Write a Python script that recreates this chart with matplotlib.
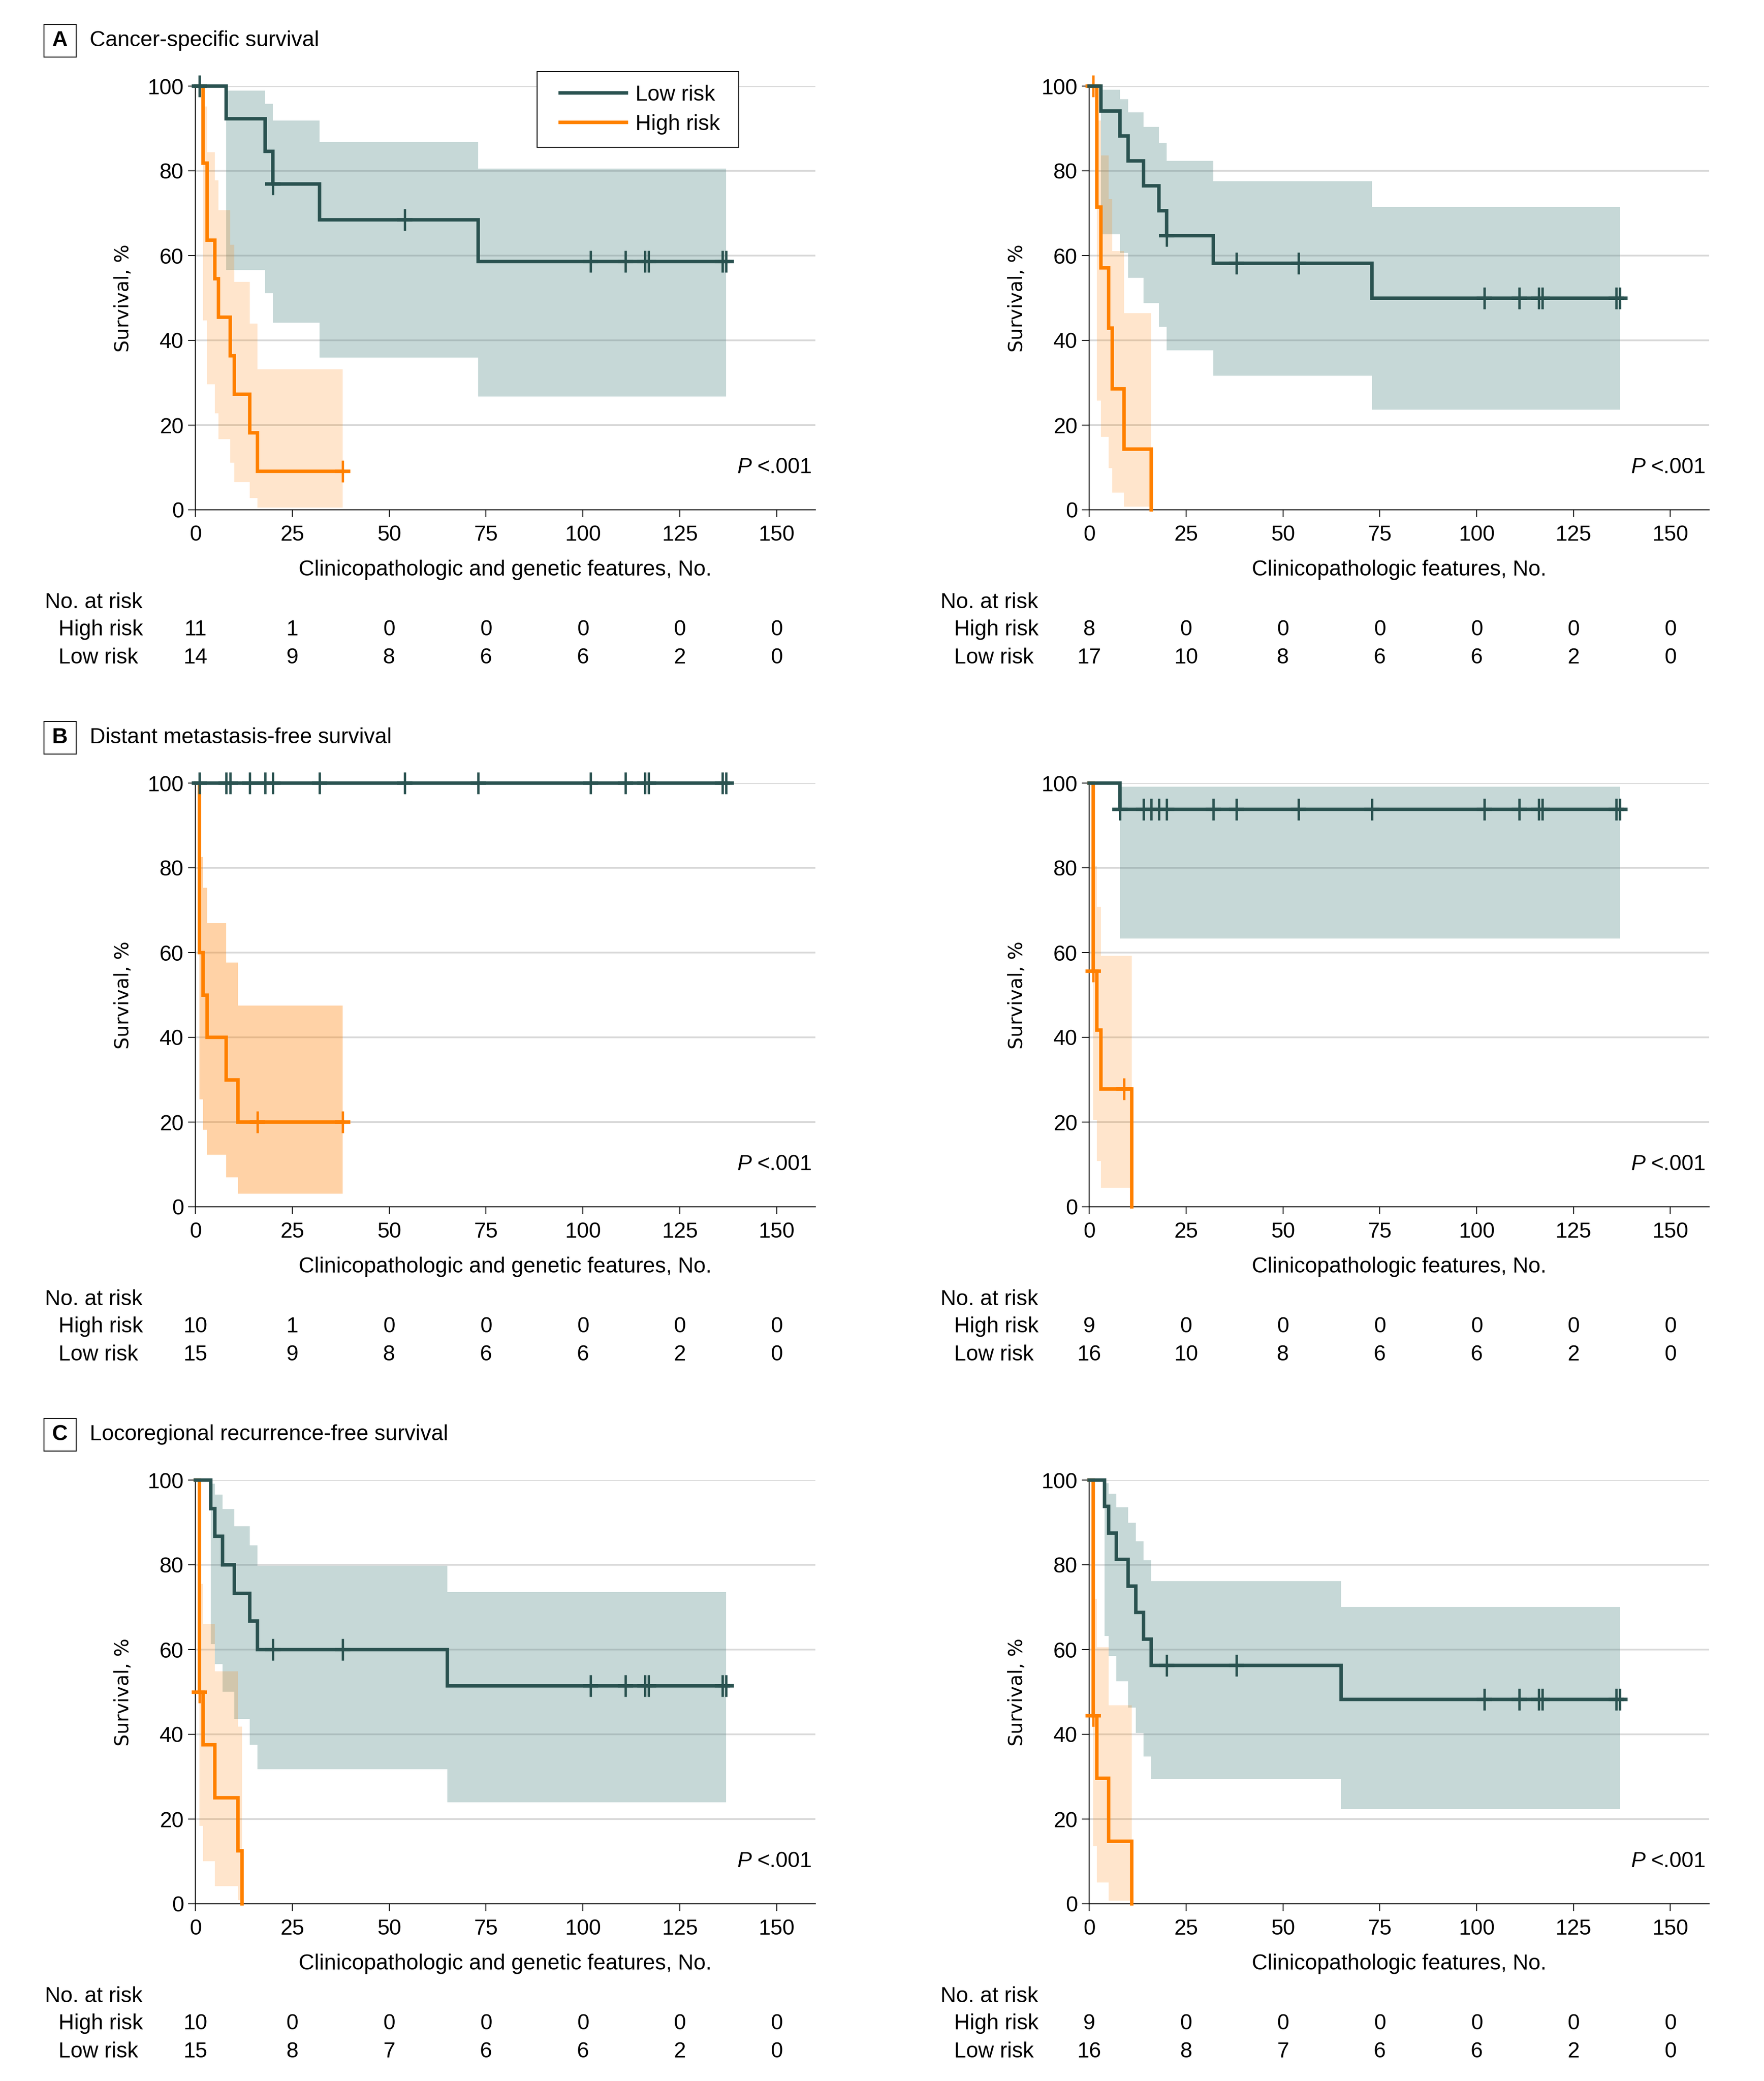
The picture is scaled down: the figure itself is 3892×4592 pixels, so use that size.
import numpy as np
import matplotlib
matplotlib.use('Agg')
import matplotlib.pyplot as plt
import matplotlib.font_manager as fm
import matplotlib.transforms as mtrans
from matplotlib.lines import Line2D
from matplotlib.legend_handler import HandlerLine2D
from matplotlib.patches import Rectangle

# pick a condensed face if there is one
names = set(f.name for f in fm.fontManager.ttflist)
narrow = 'Liberation Sans Narrow' in names
base_font = 'Liberation Sans Narrow' if narrow else 'Liberation Sans'
k = 1.0 if narrow else 0.82
plt.rcParams['font.family'] = base_font

low_col = '#2a5250'
low_fill = '#457f7d'
high_col = '#ff8000'
grid_col = '#d9d9d9'

titles = ['Cancer-specific survival', 'Distant metastasis-free survival',
          'Locoregional recurrence-free survival']
letters = ['A', 'B', 'C']
xlabels = ['Clinicopathologic and genetic features, No.',
           'Clinicopathologic features, No.']
xticks = [0, 25, 50, 75, 100, 125, 150]
yticks = [0, 20, 40, 60, 80, 100]

# ---- A, clinicopathologic + genetic
a1_low_t = [0, 8, 18, 20, 32, 73, 137]
a1_low_s = [100, 92.3, 84.6, 76.9, 68.4, 58.6, 58.6]
a1_low_ci_t = [8, 18, 20, 32, 73, 137]
a1_low_hi = [98.9, 95.8, 91.9, 86.8, 80.5, 80.5]
a1_low_lo = [56.6, 51.1, 44.2, 35.9, 26.7, 26.7]
a1_low_cens = [1, 20, 54, 102, 111, 116, 117, 136, 137]
a1_high_t = [0, 2, 3, 5, 6, 9, 10, 14, 16, 38]
a1_high_s = [100, 81.8, 63.6, 54.5, 45.5, 36.4, 27.3, 18.2, 9.1, 9.1]
a1_high_ci_t = [2, 3, 5, 6, 9, 10, 14, 16, 38]
a1_high_hi = [95.2, 84.4, 77.8, 70.7, 62.6, 53.8, 44.0, 33.2, 33.2]
a1_high_lo = [44.7, 29.6, 22.8, 16.7, 11.1, 6.5, 2.8, 0.5, 0.5]
a1_high_cens = [38]
a1_risk_high = [11, 1, 0, 0, 0, 0, 0]
a1_risk_low = [14, 9, 8, 6, 6, 2, 0]

# ---- A, clinicopathologic only
a2_low_t = [0, 3, 8, 10, 14, 18, 20, 32, 73, 137]
a2_low_s = [100, 94.1, 88.2, 82.4, 76.5, 70.6, 64.7, 58.2, 49.9, 49.9]
a2_low_ci_t = [3, 8, 10, 14, 18, 20, 32, 73, 137]
a2_low_hi = [99.1, 96.9, 93.8, 90.4, 86.6, 82.3, 77.5, 71.4, 71.4]
a2_low_lo = [65.0, 60.6, 54.8, 48.8, 43.2, 37.7, 31.7, 23.6, 23.6]
a2_low_cens = [20, 38, 54, 102, 111, 116, 117, 136, 137]
a2_high_t = [0, 2, 3, 5, 6, 9, 16]
a2_high_s = [100, 71.4, 57.1, 42.9, 28.6, 14.3, 0]
a2_high_ci_t = [2, 3, 5, 6, 9, 16]
a2_high_hi = [91.9, 83.6, 73.4, 61.1, 46.4, 46.4]
a2_high_lo = [25.8, 17.2, 9.8, 4.1, 0.7, 0.7]
a2_high_cens = [1]
a2_risk_high = [8, 0, 0, 0, 0, 0, 0]
a2_risk_low = [17, 10, 8, 6, 6, 2, 0]

# ---- B, clinicopathologic + genetic
b1_low_t = [0, 137]
b1_low_s = [100, 100]
b1_low_ci_t = []
b1_low_hi = []
b1_low_lo = []
b1_low_cens = [1, 8, 9, 14, 18, 20, 32, 54, 73, 102, 111, 116, 117, 136, 137]
b1_high_t = [0, 1, 2, 3, 8, 11, 38]
b1_high_s = [100, 60, 50, 40, 30, 20, 20]
b1_high_ci_t = [1, 2, 3, 8, 11, 38]
b1_high_hi = [82.6, 75.3, 67.0, 57.7, 47.5, 47.5]
b1_high_lo = [25.3, 18.2, 12.3, 7.0, 3.1, 3.1]
b1_high_cens = [16, 38]
b1_risk_high = [10, 1, 0, 0, 0, 0, 0]
b1_risk_low = [15, 9, 8, 6, 6, 2, 0]

# ---- B, clinicopathologic only
b2_low_t = [0, 8, 137]
b2_low_s = [100, 93.8, 93.8]
b2_low_ci_t = [8, 137]
b2_low_hi = [99.1, 99.1]
b2_low_lo = [63.3, 63.3]
b2_low_cens = [8, 14, 16, 18, 20, 32, 38, 54, 73, 102, 111, 116, 117, 136, 137]
b2_high_t = [0, 1, 2, 3, 11]
b2_high_s = [100, 55.6, 41.7, 27.8, 0]
b2_high_ci_t = [1, 2, 3, 11]
b2_high_hi = [80.4, 70.8, 59.2, 59.2]
b2_high_lo = [20.4, 10.8, 4.5, 4.5]
b2_high_cens = [1, 9]
b2_risk_high = [9, 0, 0, 0, 0, 0, 0]
b2_risk_low = [16, 10, 8, 6, 6, 2, 0]

# ---- C, clinicopathologic + genetic
c1_low_t = [0, 4, 5, 7, 10, 14, 16, 65, 137]
c1_low_s = [100, 93.3, 86.7, 80.0, 73.3, 66.7, 60.0, 51.4, 51.4]
c1_low_ci_t = [4, 5, 7, 10, 14, 16, 65, 137]
c1_low_hi = [99.1, 96.6, 93.2, 89.1, 84.6, 79.8, 73.6, 73.6]
c1_low_lo = [61.3, 56.6, 50.1, 43.6, 37.5, 31.8, 24.0, 24.0]
c1_low_cens = [20, 38, 102, 111, 116, 117, 136, 137]
c1_high_t = [0, 1, 2, 5, 11, 12]
c1_high_s = [100, 50, 37.5, 25, 12.5, 0]
c1_high_ci_t = [1, 2, 5, 11, 12]
c1_high_hi = [75.5, 66.0, 54.9, 41.8, 41.8]
c1_high_lo = [18.4, 10.0, 4.2, 0.9, 0.9]
c1_high_cens = [1]
c1_risk_high = [10, 0, 0, 0, 0, 0, 0]
c1_risk_low = [15, 8, 7, 6, 6, 2, 0]

# ---- C, clinicopathologic only
c2_low_t = [0, 4, 5, 7, 10, 12, 14, 16, 65, 137]
c2_low_s = [100, 93.8, 87.5, 81.3, 75.0, 68.8, 62.5, 56.3, 48.2, 48.2]
c2_low_ci_t = [4, 5, 7, 10, 12, 14, 16, 65, 137]
c2_low_hi = [99.3, 96.8, 93.6, 89.9, 85.6, 81.1, 76.2, 70.1, 70.1]
c2_low_lo = [63.2, 58.5, 52.5, 46.3, 40.3, 34.8, 29.4, 22.3, 22.3]
c2_low_cens = [20, 38, 102, 111, 116, 117, 136, 137]
c2_high_t = [0, 1, 2, 5, 11]
c2_high_s = [100, 44.4, 29.6, 14.8, 0]
c2_high_ci_t = [1, 2, 5, 11]
c2_high_hi = [72.0, 60.5, 46.8, 46.8]
c2_high_lo = [13.6, 5.0, 0.8, 0.8]
c2_high_cens = [1]
c2_risk_high = [9, 0, 0, 0, 0, 0, 0]
c2_risk_low = [16, 8, 7, 6, 6, 2, 0]

W, H = 3892, 4592
fig = plt.figure(figsize=(W / 100, H / 100), dpi=100)

col_left = [431, 2403]
row_top = [190, 1728, 3266]
ax_w, ax_h = 1368, 935

fs = 42 * k
fs_px = fs / 72 * 100
lw = 5.5


def step_value(t, s, x):
    i = np.searchsorted(t, x, side='right') - 1
    return np.asarray(s)[i]


def draw_group(ax, t, s, ci_t, hi, lo, cens, color, fill, alpha, z):
    if len(ci_t):
        ax.fill_between(ci_t, lo, hi, step='post', color=fill, alpha=alpha,
                        linewidth=0, zorder=1)
    ax.step(t, s, where='post', color=color, lw=lw, zorder=z,
            solid_joinstyle='miter', clip_on=False)
    cy = step_value(t, s, cens)
    ax.plot(cens, cy, ls='none', marker='|', ms=35, mew=3.8, color=color,
            zorder=z, clip_on=False)
    ax.plot(cens, cy, ls='none', marker='_', ms=25, mew=lw, color=color,
            zorder=z, clip_on=False)


def make_axes(r, c):
    ax = fig.add_axes([col_left[c] / W, 1 - (row_top[r] + ax_h) / H,
                       ax_w / W, ax_h / H])
    ax.set_xlim(0, 160)
    ax.set_ylim(0, 100)
    ax.set_xticks(xticks)
    ax.set_yticks(yticks)
    for sp in ['top', 'right']:
        ax.spines[sp].set_visible(False)
    for sp in ['left', 'bottom']:
        ax.spines[sp].set_linewidth(1.6)
    ax.tick_params(length=11.5, width=1.5, labelsize=fs)
    ax.tick_params(axis='x', pad=12)
    ax.tick_params(axis='y', pad=7)
    ax.set_axisbelow(True)
    ax.yaxis.grid(True, color=grid_col, lw=2.7)
    ax.set_xlabel(xlabels[c], fontsize=fs)
    ax.xaxis.set_label_coords(0.5, -132 / ax_h)
    ax.xaxis.label.set_va('center')
    ax.set_ylabel('Survival, %', fontsize=30.5, family='DejaVu Sans')
    ax.yaxis.set_label_coords(-0.101, 0.5)
    t1 = ax.text(159.2, 10, '<.001', ha='right', va='center', fontsize=fs)
    ax.annotate('P', xy=(0, 0.5), xycoords=t1, xytext=(-9, 0),
                textcoords='offset points', ha='right', va='center',
                fontstyle='italic', fontsize=fs)
    return ax


def risk_table(ax, r, c, high, low):
    trans = mtrans.blended_transform_factory(ax.transData, fig.transFigure)
    x0 = 99 + 1976 * c
    y_hd = 1 - (row_top[r] + 1139) / H
    y_hi = 1 - (row_top[r] + 1200) / H
    y_lo = 1 - (row_top[r] + 1261) / H
    fig.text(x0 / W, y_hd, 'No. at risk', ha='left', va='center', fontsize=fs)
    fig.text((x0 + 30) / W, y_hi, 'High risk', ha='left', va='center', fontsize=fs)
    fig.text((x0 + 30) / W, y_lo, 'Low risk', ha='left', va='center', fontsize=fs)
    for xv, nh, nl in zip(xticks, high, low):
        ax.text(xv, y_hi, str(nh), transform=trans, ha='center', va='center',
                fontsize=fs)
        ax.text(xv, y_lo, str(nl), transform=trans, ha='center', va='center',
                fontsize=fs)


panels = [
    [(a1_low_t, a1_low_s, a1_low_ci_t, a1_low_hi, a1_low_lo, a1_low_cens,
      a1_high_t, a1_high_s, a1_high_ci_t, a1_high_hi, a1_high_lo, a1_high_cens,
      a1_risk_high, a1_risk_low, 0.2),
     (a2_low_t, a2_low_s, a2_low_ci_t, a2_low_hi, a2_low_lo, a2_low_cens,
      a2_high_t, a2_high_s, a2_high_ci_t, a2_high_hi, a2_high_lo, a2_high_cens,
      a2_risk_high, a2_risk_low, 0.2)],
    [(b1_low_t, b1_low_s, b1_low_ci_t, b1_low_hi, b1_low_lo, b1_low_cens,
      b1_high_t, b1_high_s, b1_high_ci_t, b1_high_hi, b1_high_lo, b1_high_cens,
      b1_risk_high, b1_risk_low, 0.35),
     (b2_low_t, b2_low_s, b2_low_ci_t, b2_low_hi, b2_low_lo, b2_low_cens,
      b2_high_t, b2_high_s, b2_high_ci_t, b2_high_hi, b2_high_lo, b2_high_cens,
      b2_risk_high, b2_risk_low, 0.2)],
    [(c1_low_t, c1_low_s, c1_low_ci_t, c1_low_hi, c1_low_lo, c1_low_cens,
      c1_high_t, c1_high_s, c1_high_ci_t, c1_high_hi, c1_high_lo, c1_high_cens,
      c1_risk_high, c1_risk_low, 0.2),
     (c2_low_t, c2_low_s, c2_low_ci_t, c2_low_hi, c2_low_lo, c2_low_cens,
      c2_high_t, c2_high_s, c2_high_ci_t, c2_high_hi, c2_high_lo, c2_high_cens,
      c2_risk_high, c2_risk_low, 0.2)],
]

for r in range(3):
    for c in range(2):
        p = panels[r][c]
        ax = make_axes(r, c)
        draw_group(ax, *p[0:6], low_col, low_fill, 0.3, 4)
        draw_group(ax, *p[6:12], high_col, high_col, p[14], 3)
        risk_table(ax, r, c, p[12], p[13])
        if r == 0 and c == 0:
            handles = [Line2D([], [], color=low_col, lw=lw),
                       Line2D([], [], color=high_col, lw=lw)]
            xpad = 22 / fs_px
            leg = ax.legend(handles, ['Low risk ', 'High risk '],
                            loc='upper left',
                            bbox_to_anchor=(1185 / W, 1 - 158 / H),
                            bbox_transform=fig.transFigure, borderaxespad=0,
                            fontsize=fs, handlelength=146 / fs_px + xpad,
                            handletextpad=20 / fs_px, labelspacing=0.42,
                            borderpad=0.6, fancybox=False, framealpha=1,
                            edgecolor='black',
                            handler_map={Line2D: HandlerLine2D(xpad=xpad)})
            leg.get_frame().set_linewidth(1.5)

    # panel letter box and title
    yc = 1 - (row_top[r] - 100) / H
    fig.patches.append(Rectangle((97 / W, yc - 36 / H), 71 / W, 72 / H,
                                 transform=fig.transFigure, fill=False,
                                 edgecolor='black', lw=1.5))
    fig.text(132.5 / W, yc, letters[r], ha='center', va='center',
             fontsize=fs, fontweight='bold')
    fig.text(198 / W, yc, titles[r], ha='left', va='center', fontsize=fs)

fig.savefig('out.png', dpi=100)
